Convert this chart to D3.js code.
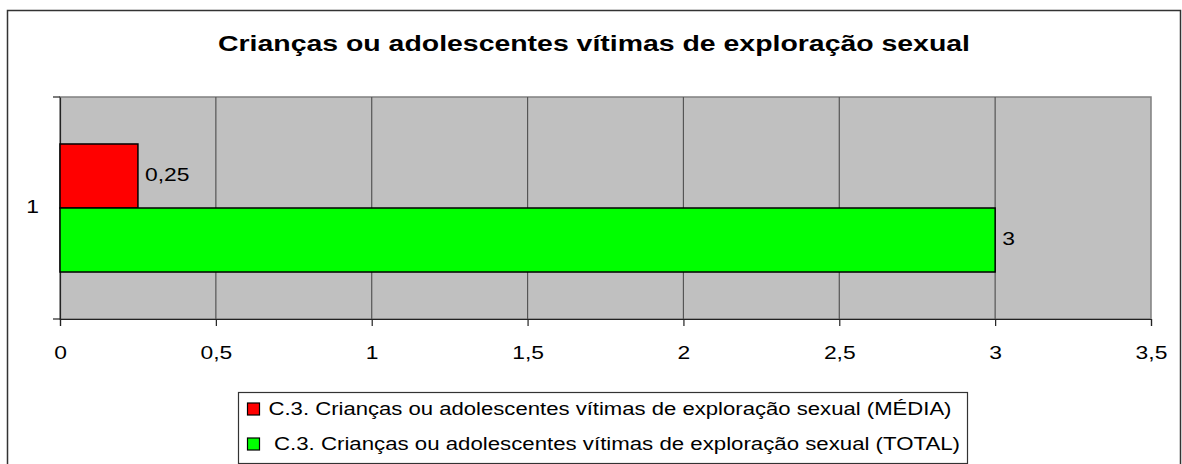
<!DOCTYPE html>
<html>
<head>
<meta charset="utf-8">
<script src="https://cdn.jsdelivr.net/npm/d3@7"></script>
<style>
  body { margin: 0; background: #fff; }
  svg { display: block; font-family: "Liberation Sans", Arial, sans-serif; }
</style>
</head>
<body>
<script>
var categories = ["1"];
var seriesNames = [
  "C.3. Crianças ou adolescentes vítimas de exploração sexual (MÉDIA)",
  "C.3. Crianças ou adolescentes vítimas de exploração sexual (TOTAL)"
];
var seriesValues = [0.25, 3];
var seriesLabels = ["0,25", "3"];
var seriesColors = ["#FF0000", "#00FF00"];
var xTicks = [0, 0.5, 1, 1.5, 2, 2.5, 3, 3.5];
var title = "Crianças ou adolescentes vítimas de exploração sexual";

var w = 1182, h = 464;
var plot = { left: 60, top: 97, right: 1151, bottom: 319 };
var stretch = 1.27; // the original text is drawn wider than it is tall

var svg = d3.select("body").append("svg")
            .attr("width", w)
            .attr("height", h);

// outer chart border
svg.append("rect")
   .attr("x", 7.5).attr("y", 10.5)
   .attr("width", 1173).attr("height", 470)
   .attr("fill", "#fff")
   .attr("stroke", "#333")
   .attr("stroke-width", 1.5);

svg.append("text")
   .attr("x", 218).attr("y", 51)
   .attr("font-size", "22px")
   .attr("font-weight", "bold")
   .attr("textLength", 752)
   .attr("lengthAdjust", "spacingAndGlyphs")
   .text(title);

var x = d3.scaleLinear()
          .domain([0, 3.5])
          .range([plot.left, plot.right]);

var y = d3.scaleBand()
          .domain(categories)
          .range([plot.top, plot.bottom])
          .paddingOuter(0.367);

var ySeries = d3.scaleBand()
                .domain(seriesNames)
                .range([0, y.bandwidth()]);

// plot background
svg.append("rect")
   .attr("x", plot.left).attr("y", plot.top)
   .attr("width", plot.right - plot.left)
   .attr("height", plot.bottom - plot.top)
   .attr("fill", "#C0C0C0")
   .attr("stroke", "#808080")
   .attr("stroke-width", 1.5);

// gridlines
svg.selectAll(".grid")
   .data(xTicks.slice(1, -1))
   .enter()
   .append("line")
   .attr("x1", d => x(d)).attr("x2", d => x(d))
   .attr("y1", plot.top).attr("y2", plot.bottom)
   .attr("stroke", "#555")
   .attr("stroke-width", 1.2);

// x axis
var xAxis = svg.append("g")
               .attr("transform", `translate(0,${plot.bottom})`)
               .call(d3.axisBottom(x).tickValues(xTicks)
                       .tickFormat(d => String(d).replace(".", ","))
                       .tickSize(7));
xAxis.select(".domain").attr("stroke", "#222").attr("stroke-width", 1.2);
xAxis.selectAll(".tick line").attr("stroke", "#222").attr("stroke-width", 1.2);
xAxis.selectAll("text")
     .attr("y", 40)
     .attr("dy", null)
     .attr("font-size", "18px")
     .attr("fill", "#000")
     .attr("transform", `scale(${stretch},1)`)
     .attr("font-family", "Liberation Sans, Arial, sans-serif");

// y axis
var yAxis = svg.append("g")
               .attr("transform", `translate(${plot.left},0)`)
               .call(d3.axisLeft(y).tickSize(0).tickPadding(0));
yAxis.select(".domain").attr("stroke", "#222").attr("stroke-width", 1.2);
yAxis.selectAll("text")
     .attr("x", -21 / stretch)
     .attr("dy", "0.3em")
     .attr("font-size", "18px")
     .attr("fill", "#000")
     .attr("transform", `scale(${stretch},1)`)
     .attr("font-family", "Liberation Sans, Arial, sans-serif");
svg.selectAll(".ytick")
   .data([plot.top, plot.bottom])
   .enter()
   .append("line")
   .attr("x1", plot.left - 7).attr("x2", plot.left)
   .attr("y1", d => d).attr("y2", d => d)
   .attr("stroke", "#222")
   .attr("stroke-width", 1.2);

// bars
var rows = seriesNames.map((s, i) => ({ cat: categories[0], name: s, value: seriesValues[i], label: seriesLabels[i], color: seriesColors[i] }));

svg.selectAll(".bar")
   .data(rows)
   .enter()
   .append("rect")
   .attr("x", x(0))
   .attr("y", d => y(d.cat) + ySeries(d.name))
   .attr("width", d => x(d.value) - x(0))
   .attr("height", ySeries.bandwidth())
   .attr("fill", d => d.color)
   .attr("stroke", "#000")
   .attr("stroke-width", 1.5);

svg.selectAll(".barlabel")
   .data(rows)
   .enter()
   .append("text")
   .attr("transform", d => `translate(${x(d.value) + 7},${y(d.cat) + ySeries(d.name) + ySeries.bandwidth() / 2}) scale(${stretch},1)`)
   .attr("dy", "0.3em")
   .attr("font-size", "18px")
   .text(d => d.label);

// legend
var legend = svg.append("g");
legend.append("rect")
      .attr("x", 238.5).attr("y", 392.5)
      .attr("width", 729).attr("height", 71)
      .attr("fill", "#fff")
      .attr("stroke", "#333")
      .attr("stroke-width", 1.2);

var legendTextX = [268.5, 274];
var legendTextW = [683, 686];
var items = legend.selectAll(".item")
                  .data(rows)
                  .enter()
                  .append("g")
                  .attr("transform", (d, i) => `translate(0,${403 + i * 35})`);
items.append("rect")
     .attr("x", 247.5)
     .attr("width", 12).attr("height", 12)
     .attr("fill", d => d.color)
     .attr("stroke", "#000")
     .attr("stroke-width", 1.2);
items.append("text")
     .attr("x", (d, i) => legendTextX[i])
     .attr("y", 12)
     .attr("font-size", "17.5px")
     .attr("textLength", (d, i) => legendTextW[i])
     .attr("lengthAdjust", "spacingAndGlyphs")
     .text(d => d.name);
</script>
</body>
</html>
